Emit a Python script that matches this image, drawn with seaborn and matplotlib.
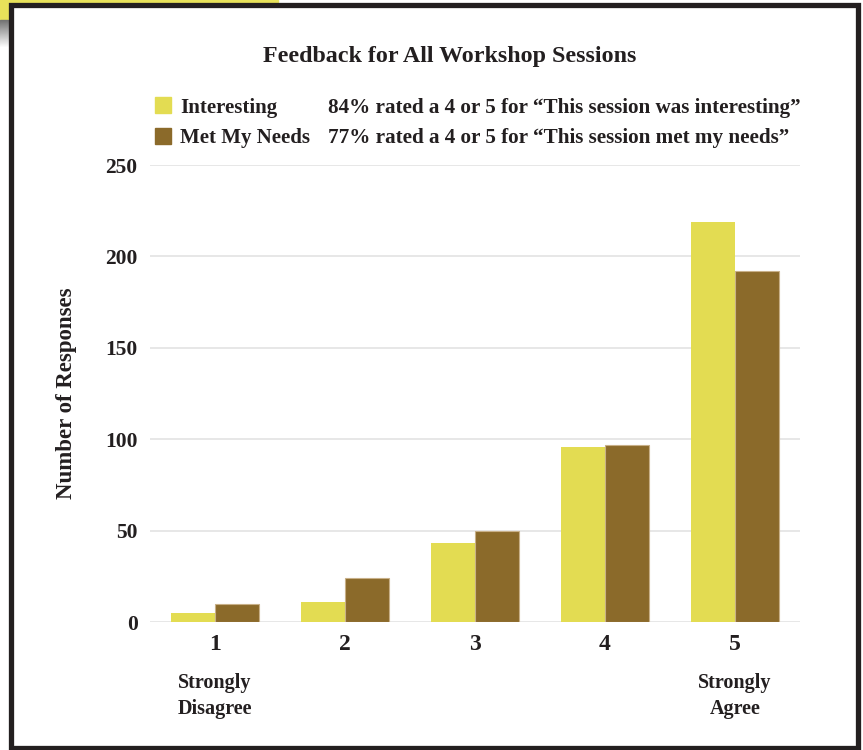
import numpy as np
import pandas as pd
import matplotlib
matplotlib.use('Agg')
import matplotlib.pyplot as plt
from matplotlib.patches import Rectangle
import seaborn as sns

# data
ratings = ['1', '2', '3', '4', '5']
series = ['Interesting', 'Met My Needs']
interesting = [5, 11, 43, 96, 219]
met_needs = [10, 24, 50, 97, 192]
notes = ['84% rated a 4 or 5 for \u201cThis session was interesting\u201d',
         '77% rated a 4 or 5 for \u201cThis session met my needs\u201d']
yticks = [0, 50, 100, 150, 200, 250]
colors = ['#E3DC52', '#8B6A2A']

df = pd.DataFrame({
    'rating': ratings * 2,
    'series': [series[0]] * 5 + [series[1]] * 5,
    'count': interesting + met_needs,
})

sns.set_theme(style='white')
plt.rcParams['font.family'] = ['Liberation Serif', 'DejaVu Serif']
plt.rcParams['font.weight'] = 'bold'
txt = '#231f20'

fig = plt.figure(figsize=(8.63, 7.5), dpi=100)
ax = fig.add_axes([150 / 863, 1 - 622 / 750, 650 / 863, 457 / 750])

sns.barplot(data=df, x='rating', y='count', hue='series', hue_order=series,
            order=ratings, palette=colors, width=0.67, gap=0, ax=ax,
            legend=False, saturation=1, linewidth=0)
for p in ax.patches:
    fc = p.get_facecolor()
    if fc[0] < 0.7:
        p.set_edgecolor('#c8b088')
        p.set_linewidth(0.8)

ax.set_ylim(0, 250)
ax.set_xlim(-0.5, 4.5)
ax.set_yticks(yticks)
ax.yaxis.grid(True, color='#e3e3e3', lw=1.2)
ax.set_axisbelow(True)
for s in ax.spines.values():
    s.set_visible(False)
ax.tick_params(axis='y', length=0, pad=9, labelsize=15.5, labelcolor=txt)
ax.tick_params(axis='x', length=0, pad=9, labelsize=17, labelcolor=txt)
for lab in ax.get_xticklabels() + ax.get_yticklabels():
    lab.set_fontweight('bold')
ax.set_xlabel('')
ax.set_ylabel('Number of Responses', fontsize=16.5, fontweight='bold', color=txt)
ax.yaxis.set_label_coords(-0.112, 0.5)

for xi, lab in [(0, 'Strongly\nDisagree'), (4, 'Strongly\nAgree')]:
    ax.text(xi, -0.111, lab, transform=ax.get_xaxis_transform(),
            ha='center', va='top', fontsize=14.5, fontweight='bold', color=txt,
            linespacing=1.45)

fig.text(450 / 863, 1 - 62 / 750, 'Feedback for All Workshop Sessions',
         ha='center', va='baseline', fontsize=17.3, fontweight='bold', color=txt)

# legend
for i, (name, note) in enumerate(zip(series, notes)):
    top = 97 + i * 31
    fig.patches.append(Rectangle((155 / 863, 1 - (top + 16) / 750), 16 / 863, 16 / 750,
                                 transform=fig.transFigure, color=colors[i]))
    base = 1 - (113 + i * 30) / 750
    fig.text(180 / 863, base, name, va='baseline', fontsize=15, fontweight='bold', color=txt)
    fig.text(328 / 863, base, note, va='baseline', fontsize=15.2, fontweight='bold', color=txt)

# frame around the chart
fig.patches.append(Rectangle((0, 1 - 2 / 750), 278 / 863, 2 / 750,
                             transform=fig.transFigure, color='#E8E25A', zorder=0))
fig.patches.append(Rectangle((0, 1 - 20 / 750), 8 / 863, 20 / 750,
                             transform=fig.transFigure, color='#E8E25A', zorder=0))
grad = np.linspace(0.45, 1.0, 28)
for k, g in enumerate(grad):
    fig.patches.append(Rectangle((0, 1 - (21 + k) / 750), 8 / 863, 1 / 750,
                                 transform=fig.transFigure, color=(g, g, g), zorder=0))
fig.patches.append(Rectangle((10.5 / 863, 2.5 / 750), 847 / 863, 742.5 / 750,
                             transform=fig.transFigure, fill=False, ec='#231f20',
                             lw=3.8, zorder=5))

fig.savefig('out.png', dpi=100)
